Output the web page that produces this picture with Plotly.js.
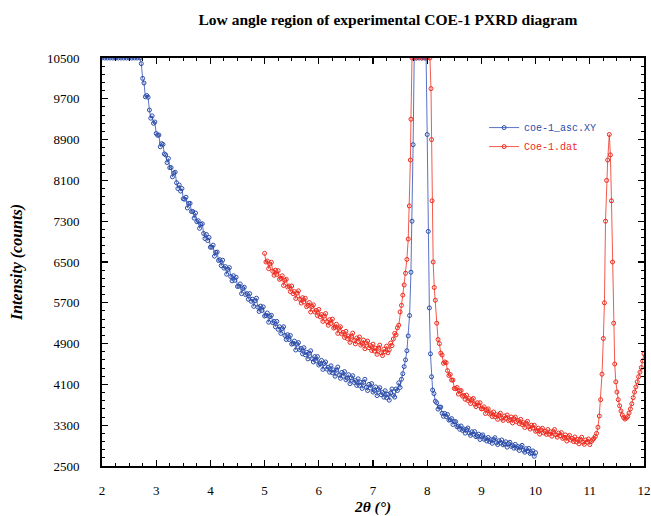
<!DOCTYPE html>
<html>
<head>
<meta charset="utf-8">
<script src="https://cdn.plot.ly/plotly-3.0.1.min.js"></script>
<style>html,body{margin:0;padding:0;background:#fff;}#chart{width:651px;height:516px;}</style>
</head>
<body>
<div id="chart"></div>
<script>
// Series 1: coe-1_asc.XY (blue)
const blueX = [2.00,2.05,2.10,2.15,2.20,2.25,2.30,2.35,2.40,2.45,2.50,2.55,2.60,2.65,2.70,
2.725,2.750,2.775,2.800,2.825,2.850,2.875,2.900,2.925,2.950,2.975,
3.000,3.025,3.050,3.075,3.100,3.125,3.150,3.175,3.200,3.225,3.250,3.275,3.300,3.325,3.350,3.375,3.400,3.425,3.450,3.475,
3.500,3.525,3.550,3.575,3.600,3.625,3.650,3.675,3.700,3.725,3.750,3.775,3.800,3.825,3.850,3.875,3.900,3.925,3.950,3.975,
4.000,4.025,4.050,4.075,4.100,4.125,4.150,4.175,4.200,4.225,4.250,4.275,4.300,4.325,4.350,4.375,4.400,4.425,4.450,4.475,
4.500,4.525,4.550,4.575,4.600,4.625,4.650,4.675,4.700,4.725,4.750,4.775,4.800,4.825,4.850,4.875,4.900,4.925,4.950,4.975,
5.000,5.025,5.050,5.075,5.100,5.125,5.150,5.175,5.200,5.225,5.250,5.275,5.300,5.325,5.350,5.375,5.400,5.425,5.450,5.475,
5.500,5.525,5.550,5.575,5.600,5.625,5.650,5.675,5.700,5.725,5.750,5.775,5.800,5.825,5.850,5.875,5.900,5.925,5.950,5.975,
6.000,6.025,6.050,6.075,6.100,6.125,6.150,6.175,6.200,6.225,6.250,6.275,6.300,6.325,6.350,6.375,6.400,6.425,6.450,6.475,
6.500,6.525,6.550,6.575,6.600,6.625,6.650,6.675,6.700,6.725,6.750,6.775,6.800,6.825,6.850,6.875,6.900,6.925,6.950,6.975,
7.000,7.025,7.050,7.075,7.100,7.125,7.150,7.175,7.200,7.225,7.250,7.275,7.300,7.325,7.350,7.375,7.400,7.425,7.450,7.475,
7.500,7.525,7.550,7.575,7.600,7.625,7.650,7.675,7.700,7.720,7.740,7.760,7.800,7.850,7.900,7.950,7.980,
8.000,8.020,8.040,8.060,8.080,8.100,8.125,8.150,8.175,8.200,8.225,8.250,8.275,8.300,8.325,8.350,8.375,8.400,8.425,8.450,8.475,
8.500,8.525,8.550,8.575,8.600,8.625,8.650,8.675,8.700,8.725,8.750,8.775,8.800,8.825,8.850,8.875,8.900,8.925,8.950,8.975,
9.000,9.025,9.050,9.075,9.100,9.125,9.150,9.175,9.200,9.225,9.250,9.275,9.300,9.325,9.350,9.375,9.400,9.425,9.450,9.475,
9.500,9.525,9.550,9.575,9.600,9.625,9.650,9.675,9.700,9.725,9.750,9.775,9.800,9.825,9.850,9.875,9.900,9.925,9.950,9.975,10.000];
const blueY = [10500,10500,10500,10500,10500,10500,10500,10500,10500,10500,10500,10500,10500,10500,10500,
10390,10100,10010,9740,9765,9730,9480,9320,9365,9220,9245,
9020,8985,8990,8760,8820,8805,8620,8600,8450,8530,8350,8350,8170,8245,8260,8055,7940,8010,7890,7940,
7740,7730,7770,7560,7650,7650,7490,7490,7360,7460,7290,7310,7160,7240,7250,7060,6960,7040,6920,6980,
6790,6790,6830,6615,6690,6695,6530,6545,6430,6535,6380,6410,6260,6355,6390,6215,6130,6230,6140,6200,
6020,6025,6070,5880,5980,6005,5860,5880,5770,5880,5730,5770,5630,5740,5790,5615,5530,5635,5550,5620,
5440,5450,5500,5320,5430,5455,5310,5335,5230,5335,5180,5230,5100,5195,5230,5060,4980,5075,4980,5060,
4890,4900,4950,4775,4890,4920,4780,4805,4700,4820,4680,4730,4600,4710,4760,4605,4540,4645,4560,4645,
4480,4505,4570,4395,4510,4540,4400,4435,4340,4465,4330,4385,4260,4380,4440,4285,4220,4335,4260,4350,
4190,4220,4290,4115,4230,4270,4140,4175,4080,4210,4080,4140,4020,4140,4200,4045,3980,4100,4030,4115,
3950,3980,4050,3880,4000,4035,3900,3940,3850,3975,3840,3905,3790,3930,4010,3885,3850,4010,3980,4130,
4040,4200,4310,4450,4580,4760,5050,5450,6300,7300,8800,10500,10500,10500,10500,10500,10500,
9000,7100,5600,4700,4250,3990,3920,3770,3740,3615,3655,3655,3535,3475,3530,3470,3510,3400,3405,3430,3315,
3370,3370,3270,3283,3220,3285,3200,3225,3145,3215,3245,3145,3100,3170,3125,3175,3075,3090,3125,3020,
3090,3110,3025,3045,2990,3060,2980,3015,2945,3020,3055,2960,2920,2995,2955,3010,2915,2935,2975,2870,
2940,2965,2885,2905,2850,2925,2850,2880,2805,2875,2905,2810,2770,2840,2795,2845,2745,2760,2795,2690,2760];

// Series 2: Coe-1.dat (red)
const redX = [5.000,5.025,5.050,5.075,5.100,5.125,5.150,5.175,5.200,5.225,5.250,5.275,5.300,5.325,5.350,5.375,5.400,5.425,5.450,5.475,
5.500,5.525,5.550,5.575,5.600,5.625,5.650,5.675,5.700,5.725,5.750,5.775,5.800,5.825,5.850,5.875,5.900,5.925,5.950,5.975,
6.000,6.025,6.050,6.075,6.100,6.125,6.150,6.175,6.200,6.225,6.250,6.275,6.300,6.325,6.350,6.375,6.400,6.425,6.450,6.475,
6.500,6.525,6.550,6.575,6.600,6.625,6.650,6.675,6.700,6.725,6.750,6.775,6.800,6.825,6.850,6.875,6.900,6.925,6.950,6.975,
7.000,7.025,7.050,7.075,7.100,7.125,7.150,7.175,7.200,7.225,7.250,7.275,7.300,7.325,7.350,7.375,7.400,7.425,7.450,7.475,
7.500,7.525,7.550,7.575,7.600,7.625,7.650,7.670,7.690,7.700,7.720,7.800,7.900,8.000,8.050,8.070,8.080,8.090,8.110,8.130,8.150,8.175,8.200,
8.225,8.250,8.275,8.300,8.325,8.350,8.375,8.400,8.425,8.450,8.475,8.500,8.525,8.550,8.575,8.600,8.625,8.650,8.675,8.700,
8.725,8.750,8.775,8.800,8.825,8.850,8.875,8.900,8.925,8.950,8.975,9.000,9.025,9.050,9.075,9.100,9.125,9.150,9.175,9.200,
9.225,9.250,9.275,9.300,9.325,9.350,9.375,9.400,9.425,9.450,9.475,9.500,9.525,9.550,9.575,9.600,9.625,9.650,9.675,9.700,
9.725,9.750,9.775,9.800,9.825,9.850,9.875,9.900,9.925,9.950,9.975,10.000,10.025,10.050,10.075,10.100,10.125,10.150,10.175,10.200,
10.225,10.250,10.275,10.300,10.325,10.350,10.375,10.400,10.425,10.450,10.475,10.500,10.525,10.550,10.575,10.600,10.625,10.650,10.675,10.700,
10.725,10.750,10.775,10.800,10.825,10.850,10.875,10.900,10.925,10.950,10.975,11.000,
11.025,11.050,11.075,11.100,11.125,11.150,11.175,11.200,11.225,11.250,11.270,11.290,11.310,11.330,11.360,11.380,11.400,11.420,11.440,11.460,11.480,
11.500,11.525,11.550,11.575,11.600,11.625,11.650,11.675,11.700,11.725,11.750,11.775,11.800,11.825,11.850,11.875,11.900,11.925,11.950,11.975,12.000];
const redY = [6670,6500,6520,6370,6460,6495,6320,6240,6340,6255,6330,6160,6180,6230,6040,6140,6160,6010,6030,5920,
6030,5880,5920,5785,5890,5935,5770,5695,5800,5715,5790,5625,5650,5705,5520,5630,5660,5520,5550,5450,
5570,5425,5470,5335,5440,5490,5330,5260,5370,5295,5380,5205,5220,5280,5100,5205,5230,5090,5120,5020,
5140,5000,5050,4925,5040,5105,4960,4895,5010,4940,5030,4870,4900,4970,4800,4915,4950,4820,4860,4765,
4890,4755,4810,4690,4810,4870,4720,4665,4790,4740,4850,4720,4780,4910,4860,4990,5100,5070,5210,5260,
5520,5650,5850,6050,6280,6550,6950,7600,8500,9300,10500,10500,10500,10500,10500,9900,8900,7700,6500,6000,5750,5300,4980,
4900,4715,4675,4515,4540,4525,4370,4275,4295,4185,4185,4020,4015,4040,3910,3975,3980,3870,3885,3810,
3890,3785,3820,3725,3800,3825,3715,3665,3740,3685,3740,3620,3625,3660,3530,3600,3620,3520,3540,3470,
3560,3465,3505,3415,3500,3535,3435,3395,3480,3435,3500,3390,3410,3460,3345,3430,3460,3370,3395,3330,
3415,3315,3350,3255,3340,3375,3270,3225,3300,3245,3300,3180,3195,3240,3125,3210,3240,3150,3180,3120,
3215,3125,3170,3085,3175,3215,3110,3065,3145,3095,3155,3040,3060,3110,2990,3070,3100,3010,3040,2980,
3070,2975,3020,2935,3025,3065,2965,2925,3010,2965,3030,2920,
2980,3010,3040,3080,3140,3260,3480,3800,4300,5000,5700,7300,8100,8500,9000,8600,7700,6500,5300,4500,4150,
3950,3800,3680,3580,3500,3450,3420,3440,3470,3540,3620,3720,3840,3950,4050,4150,4250,4340,4430,4560,4700];

const xTicks = [2,3,4,5,6,7,8,9,10,11,12];
const yTicks = [2500,3300,4100,4900,5700,6500,7300,8100,8900,9700,10500];

const blueCol = '#2a4ca8';
const redCol = '#ee2a1e';

const traces = [
  {x: blueX, y: blueY, type: 'scatter', mode: 'lines+markers',
   name: '<span style="color:#2a4ca8">coe-1_asc.XY</span>',
   line: {color: 'rgba(60,90,190,0.85)', width: 1},
   marker: {symbol: 'circle-open', size: 4, color: blueCol, line: {width: 1, color: blueCol}}},
  {x: redX, y: redY, type: 'scatter', mode: 'lines+markers',
   name: '<span style="color:#ee2a1e">Coe-1.dat</span>',
   line: {color: 'rgba(240,60,45,0.85)', width: 1},
   marker: {symbol: 'circle-open', size: 4, color: redCol, line: {width: 1, color: redCol}}}
];

const serif = 'Liberation Serif, Times New Roman, serif';
const axisCommon = {
  showgrid: false, zeroline: false, showline: true, linecolor: '#000', linewidth: 2,
  mirror: 'ticks', ticks: 'inside', ticklen: 6, tickwidth: 1.3, tickcolor: '#000',
  ticklabeloverflow: 'allow',
  tickfont: {family: serif, size: 13, color: '#000'}
};

const layout = {
  width: 651, height: 516,
  paper_bgcolor: '#fff', plot_bgcolor: '#fff',
  margin: {l: 102, r: 7, t: 58, b: 50},
  title: {text: '<b>Low angle region of experimental COE-1 PXRD diagram</b>',
          font: {family: serif, size: 15.5, color: '#000'},
          x: 0.596, xref: 'container', xanchor: 'center', y: 0.962, yref: 'container', yanchor: 'middle'},
  xaxis: Object.assign({}, axisCommon, {
    range: [2, 12], tickmode: 'array', tickvals: xTicks, ticktext: xTicks.map(String),
    ticklabelstandoff: 11,
    minor: {dtick: 0.25, ticks: 'inside', ticklen: 3, tickcolor: '#000', tickwidth: 1},
    title: {text: '<b><i>2θ (°)</i></b>', font: {family: serif, size: 15.5, color: '#000'}, standoff: 8}
  }),
  yaxis: Object.assign({}, axisCommon, {
    range: [2500, 10500], tickmode: 'array', tickvals: yTicks, ticktext: yTicks.map(String),
    ticklabelstandoff: 18,
    minor: {tick0: 2500, dtick: 160, ticks: 'inside', ticklen: 3, tickcolor: '#000', tickwidth: 1},
    title: {text: '<b><i>Intensity (counts)</i></b>', font: {family: serif, size: 16, color: '#000'}, standoff: 20}
  }),
  showlegend: true,
  legend: {x: 0.705, y: 0.865, xanchor: 'left', yanchor: 'top', bgcolor: 'rgba(0,0,0,0)',
           font: {family: 'Liberation Mono, DejaVu Sans Mono, monospace', size: 10, color: '#333'},
           itemwidth: 30, tracegroupgap: 2}
};

Plotly.newPlot('chart', traces, layout, {displayModeBar: false, staticPlot: true});
</script>
</body>
</html>
